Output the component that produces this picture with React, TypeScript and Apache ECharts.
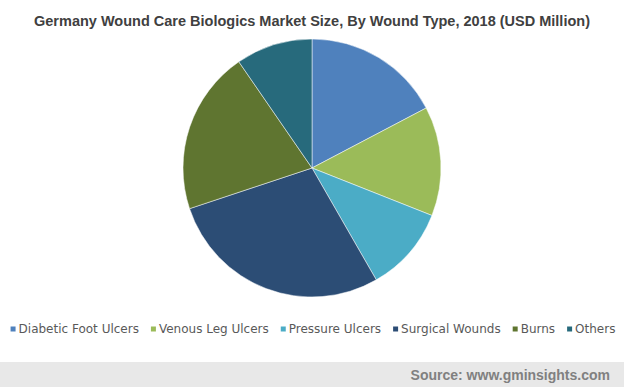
import React, { useEffect, useRef } from "react";
import * as echarts from "echarts";

const categories = [
  "Diabetic Foot Ulcers",
  "Venous Leg Ulcers",
  "Pressure Ulcers",
  "Surgical Wounds",
  "Burns",
  "Others",
];
const values = [17.3, 13.7, 10.7, 28.2, 20.5, 9.6];
const colors = ["#4F81BD", "#9BBB59", "#4BACC6", "#2C4D75", "#5F7530", "#276A7C"];

const titleText =
  "Germany Wound Care Biologics Market Size, By Wound Type, 2018 (USD Million)";
const sourceText = "Source: www.gminsights.com";

export default function App() {
  const ref = useRef<HTMLDivElement>(null);
  useEffect(() => {
    document.body.style.margin = "0";
    if (!ref.current) return;
    const chart = echarts.init(ref.current, undefined, { renderer: "svg" });
    chart.setOption({
      animation: false,
      backgroundColor: "#ffffff",
      title: {
        text: titleText,
        left: "center",
        top: 8,
        textStyle: {
          fontFamily: "Liberation Sans, Arial, sans-serif",
          fontSize: 14.5,
          fontWeight: "bold",
          color: "#404040",
        },
      },
      legend: {
        data: categories,
        left: "center",
        top: 318,
        icon: "rect",
        itemWidth: 7,
        itemHeight: 7,
        itemGap: 10,
        textStyle: {
          fontFamily: "DejaVu Sans, Verdana, sans-serif",
          fontSize: 12,
          color: "#595959",
          padding: [0, 0, 0, -3],
        },
      },
      graphic: [
        {
          type: "rect",
          shape: { x: 0, y: 362, width: 624, height: 25 },
          style: { fill: "#E8E8E8" },
          silent: true,
        },
        {
          type: "text",
          x: 610,
          y: 374.5,
          style: {
            text: sourceText,
            align: "right",
            verticalAlign: "middle",
            fontFamily: "Liberation Sans, Arial, sans-serif",
            fontSize: 14,
            fontWeight: "bold",
            fill: "#808080",
          },
        },
      ],
      series: [
        {
          type: "pie",
          center: [312, 168],
          radius: 129,
          startAngle: 90,
          clockwise: true,
          label: { show: false },
          labelLine: { show: false },
          emphasis: { disabled: true },
          itemStyle: { borderColor: "#ffffff", borderWidth: 0.5 },
          data: categories.map((name, i) => ({
            name,
            value: values[i],
            itemStyle: { color: colors[i] },
          })),
        },
      ],
    });
    return () => chart.dispose();
  }, []);
  return <div ref={ref} style={{ width: 624, height: 387 }} />;
}
